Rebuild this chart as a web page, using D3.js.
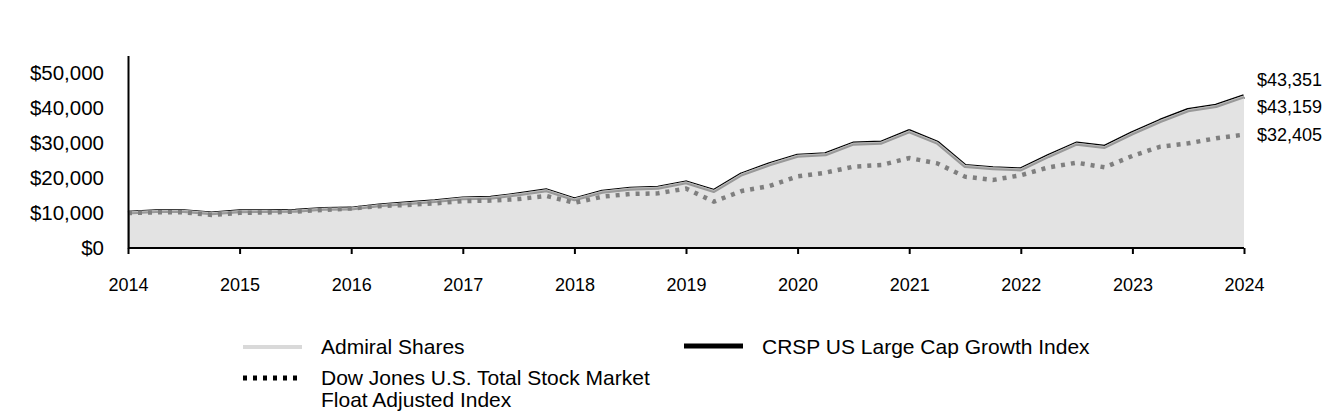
<!DOCTYPE html>
<html>
<head>
<meta charset="utf-8">
<script src="https://cdn.jsdelivr.net/npm/d3@7/dist/d3.min.js"></script>
<style>
  html, body { margin: 0; padding: 0; background: #fff; }
  svg { display: block; font-family: "Liberation Sans", Arial, sans-serif; }
</style>
</head>
<body>
<svg id="chart" width="1344" height="420"></svg>
<script>
// ---- data (quarterly, Dec 2014 .. Dec 2024) ----
const yearLabels = ["2014","2015","2016","2017","2018","2019","2020","2021","2022","2023","2024"];
const yTicks = [0, 10000, 20000, 30000, 40000, 50000];

const admiral = [10000, 10400, 10450, 9800, 10380, 10440, 10520, 11050, 11150, 12050,
                 12650, 13250, 14050, 14230, 15200, 16340, 13770, 15940, 16800, 17090,
                 18600, 16140, 20910, 23770, 26200, 26630, 29660, 29940, 33150, 29940,
                 23290, 22630, 22300, 26140, 29660, 28710, 32630, 36140, 39200, 40430,
                 43159];
const crsp = [10000, 10410, 10460, 9810, 10400, 10460, 10540, 11070, 11180, 12080,
              12690, 13290, 14100, 14280, 15260, 16400, 13830, 16010, 16870, 17160,
              18690, 16210, 21000, 23870, 26310, 26740, 29790, 30070, 33300, 30070,
              23390, 22730, 22400, 26260, 29790, 28840, 32780, 36300, 39380, 40610,
              43351];
const dowJones = [10000, 10180, 10190, 9450, 10040, 10150, 10420, 10880, 11310, 11950,
                  12310, 12750, 13400, 13550, 14000, 14860, 12900, 14670, 15430, 15620,
                  17000, 13240, 16290, 17710, 20450, 21520, 23240, 23710, 25700, 24190,
                  20380, 19430, 20800, 23050, 24380, 23050, 26300, 28950, 29910, 31340,
                  32405];
const endLabels = ["$43,351", "$43,159", "$32,405"];
const legendNames = ["Admiral Shares", "CRSP US Large Cap Growth Index",
                     ["Dow Jones U.S. Total Stock Market", "Float Adjusted Index"]];

// ---- layout ----
const svg = d3.select("#chart");
const plotLeft = 128, plotRight = 1244, plotBottom = 248, plotTop = 55.5;

const x = d3.scaleLinear().domain([0, admiral.length - 1]).range([plotLeft, plotRight]);
const y = d3.scaleLinear().domain([0, 55000]).range([plotBottom, plotTop]);

const line = d3.line().x((d, i) => x(i)).y(d => y(d));
const area = d3.area().x((d, i) => x(i)).y0(y(0)).y1(d => y(d));

// CRSP black line (drawn first; area covers its lower half)
svg.append("path").datum(crsp)
  .attr("d", line).attr("fill", "none")
  .attr("stroke", "#000").attr("stroke-width", 4.5).attr("stroke-linejoin", "round");

// area
svg.append("path").datum(admiral)
  .attr("d", area).attr("fill", "#e3e3e3").attr("stroke", "none");
svg.append("line")
  .attr("x1", plotLeft + 1).attr("x2", plotLeft + 1)
  .attr("y1", y(0)).attr("y2", y(admiral[0]))
  .attr("stroke", "#9a9a9a").attr("stroke-width", 2);

// Admiral line
svg.append("path").datum(admiral)
  .attr("d", line).attr("fill", "none")
  .attr("stroke", "#999").attr("stroke-width", 3).attr("stroke-linejoin", "round");
svg.append("path").datum(admiral)
  .attr("d", line).attr("fill", "none")
  .attr("stroke", "#bdbdbd").attr("stroke-width", 1).attr("transform", "translate(0,-1)");
// Dow Jones dotted
svg.append("path").datum(dowJones)
  .attr("d", line).attr("fill", "none")
  .attr("stroke", "#7f7f7f").attr("stroke-width", 4.5)
  .attr("stroke-dasharray", "4,6");

// y axis
const yAxis = svg.append("g").attr("transform", `translate(${plotLeft},0)`)
  .call(d3.axisLeft(y).tickValues(yTicks).tickSize(0).tickPadding(24)
    .tickFormat(d => "$" + d3.format(",")(d)));
yAxis.select(".domain").attr("stroke", "#000").attr("stroke-width", 2);
yAxis.selectAll("text").attr("font-size", 20.5).attr("fill", "#000")
  .attr("font-family", "Liberation Sans, Arial, sans-serif");

// x axis
const xAxis = svg.append("g").attr("transform", `translate(0,${plotBottom})`)
  .call(d3.axisBottom(x).tickValues(d3.range(0, admiral.length, 4))
    .tickSize(6).tickPadding(24).tickFormat((d, i) => yearLabels[i]));
xAxis.select(".domain").attr("stroke", "#000").attr("stroke-width", 2)
  .attr("d", `M${plotLeft},0H${plotRight}`);
xAxis.selectAll(".tick line").attr("stroke", "#000").attr("stroke-width", 2);
xAxis.selectAll("text").attr("font-size", 18).attr("fill", "#000")
  .attr("font-family", "Liberation Sans, Arial, sans-serif");

// end labels
const endY = [80, 107, 135];
svg.selectAll(".endlab").data(endLabels).enter().append("text")
  .attr("x", 1257).attr("y", (d, i) => endY[i]).attr("dy", "0.35em")
  .attr("font-size", 18).text(d => d);

// legend
const lg = svg.append("g");
lg.append("line").attr("x1", 243).attr("x2", 302).attr("y1", 347).attr("y2", 347)
  .attr("stroke", "#d9d9d9").attr("stroke-width", 4);
lg.append("text").attr("x", 321).attr("y", 347).attr("dy", "0.35em")
  .attr("font-size", 21).text(legendNames[0]);
lg.append("line").attr("x1", 684).attr("x2", 743).attr("y1", 346).attr("y2", 346)
  .attr("stroke", "#000").attr("stroke-width", 5);
lg.append("text").attr("x", 762).attr("y", 347).attr("dy", "0.35em")
  .attr("font-size", 21).text(legendNames[1]);
lg.append("line").attr("x1", 243).attr("x2", 300).attr("y1", 378).attr("y2", 378)
  .attr("stroke", "#000").attr("stroke-width", 5).attr("stroke-dasharray", "4,6");
const t3 = lg.append("text").attr("x", 321).attr("y", 378).attr("dy", "0.35em")
  .attr("font-size", 21);
t3.append("tspan").attr("x", 321).text(legendNames[2][0]);
t3.append("tspan").attr("x", 321).attr("dy", 22).text(legendNames[2][1]);
</script>
</body>
</html>
